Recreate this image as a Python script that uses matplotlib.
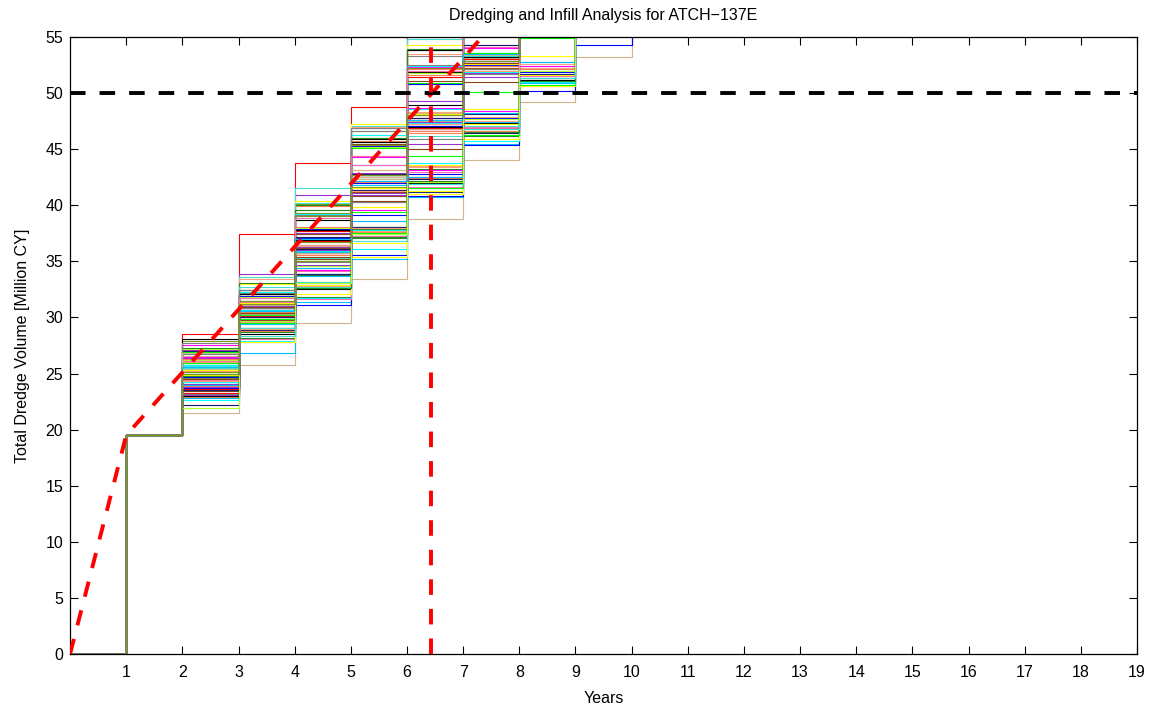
import matplotlib.pyplot as plt
import numpy as np

plt.rcParams['font.family'] = ['Liberation Sans', 'DejaVu Sans']

# dredge volume of the first year (same for every realization) [Million CY]
first_year_volume = 19.5

# annual infill volumes per realization, years 2..10 [Million CY]
inc_y2 = [9.0, 5.8, 4.1, 6.7, 5.2, 7.3, 5.9, 3.4, 6.3, 4.8,
          5.5, 7.6, 4.4, 6.1, 5.0, 2.0, 6.9, 4.7, 5.8, 7.0,
          3.8, 6.2, 5.3, 4.6, 8.0, 5.6, 4.2, 6.5, 5.1, 7.2,
          5.4, 3.6, 6.0, 4.9, 7.5, 5.7, 4.3, 6.4, 5.0, 8.4,
          5.9, 4.5, 6.6, 3.1, 6.8, 5.2, 4.8, 6.2, 3.9, 5.6,
          7.8, 4.6, 6.1, 5.5, 4.0, 7.1, 5.7, 3.3, 6.7, 5.1,
          5.8, 7.4, 4.2, 6.3, 5.0, 5.4, 8.6, 4.4, 6.0, 3.7,
          5.3, 6.9, 4.9, 6.2, 2.7, 5.9, 6.5, 4.5, 7.7, 5.6,
          4.1, 6.4, 5.2, 4.7, 7.0, 5.8, 3.5, 6.8, 5.0, 8.2,
          5.3, 4.3, 6.6, 6.0, 4.0, 7.3, 4.8, 6.1, 2.4, 5.5]
inc_y3 = [8.9, 4.6, 7.2, 3.5, 6.1, 2.9, 5.4, 7.8, 4.0, 6.5,
          3.2, 6.8, 5.0, 8.0, 4.4, 4.3, 7.0, 2.6, 5.7, 4.1,
          7.4, 5.2, 3.0, 6.6, 3.9, 7.9, 4.8, 2.8, 6.3, 5.5,
          4.2, 8.3, 5.9, 6.7, 2.7, 5.1, 7.1, 3.7, 6.0, 4.5,
          6.4, 7.5, 3.4, 5.3, 4.7, 3.1, 8.1, 6.2, 8.5, 4.9,
          5.8, 6.9, 2.5, 7.7, 5.6, 3.6, 4.4, 6.6, 3.8, 7.3,
          4.8, 3.3, 8.2, 5.1, 7.0, 2.9, 4.0, 7.6, 5.4, 6.8,
          7.5, 4.1, 6.2, 3.4, 8.4, 5.7, 3.0, 7.1, 4.6, 6.4,
          6.9, 3.6, 5.3, 8.1, 3.2, 6.0, 7.4, 4.2, 5.9, 4.7,
          3.9, 7.2, 5.6, 2.8, 6.5, 4.3, 6.9, 5.0, 7.8, 6.2]
inc_y4 = [6.4, 5.1, 6.3, 4.2, 4.8, 5.5, 6.7, 4.5, 5.9, 5.3,
          3.6, 7.0, 5.2, 7.9, 3.9, 3.7, 6.2, 4.6, 6.0, 4.4,
          5.7, 4.9, 3.3, 6.5, 5.0, 7.4, 4.0, 5.6, 4.3, 6.8,
          4.7, 6.1, 5.4, 4.2, 3.4, 6.6, 5.8, 4.1, 5.2, 7.7,
          5.9, 7.2, 4.4, 3.8, 6.4, 5.1, 6.3, 8.0, 5.5, 4.9,
          6.9, 5.3, 3.5, 7.5, 4.8, 6.2, 3.2, 5.0, 4.6, 7.1,
          5.6, 6.8, 6.0, 5.0, 7.6, 4.3, 5.7, 6.6, 4.5, 6.0,
          7.3, 4.2, 5.9, 3.6, 6.6, 5.4, 5.2, 4.7, 6.2, 7.8,
          6.3, 3.1, 5.7, 6.9, 4.5, 4.4, 6.5, 5.1, 5.8, 6.7,
          3.9, 5.0, 7.2, 4.9, 6.1, 4.6, 5.3, 6.4, 3.4, 5.5]
inc_y5 = [5.0, 4.4, 6.5, 3.9, 5.8, 4.6, 5.2, 6.9, 4.7, 6.1,
          5.3, 6.0, 3.4, 5.6, 4.8, 3.9, 7.4, 3.8, 5.5, 6.6,
          4.9, 6.7, 4.5, 5.1, 6.3, 6.8, 5.6, 3.2, 6.0, 7.9,
          4.1, 5.3, 6.8, 5.9, 5.0, 4.5, 6.4, 3.6, 5.7, 6.2,
          7.6, 6.4, 5.2, 4.4, 5.1, 3.7, 7.2, 5.8, 8.1, 6.3,
          6.6, 4.8, 5.7, 5.4, 3.5, 5.9, 4.9, 4.2, 6.7, 7.0,
          4.6, 5.5, 7.4, 6.1, 5.2, 3.3, 7.8, 6.3, 5.4, 4.3,
          6.4, 6.2, 4.7, 5.3, 5.6, 6.6, 3.8, 6.0, 7.2, 6.1,
          4.5, 4.9, 6.3, 7.1, 5.4, 5.8, 4.4, 6.5, 5.0, 7.5,
          4.6, 6.9, 5.5, 3.6, 5.3, 6.8, 4.8, 5.2, 4.3, 6.0]
inc_y6 = [7.2, 5.0, 4.6, 6.0, 5.4, 3.8, 6.2, 4.3, 6.6, 5.1,
          4.4, 6.9, 5.5, 7.7, 3.6, 5.4, 6.5, 5.5, 4.8, 6.0,
          5.9, 4.4, 5.2, 6.3, 4.1, 7.1, 3.9, 4.8, 5.6, 6.4,
          5.3, 6.5, 4.5, 5.0, 4.2, 6.8, 5.2, 4.6, 6.1, 7.5,
          6.1, 5.8, 3.7, 5.2, 6.2, 4.7, 7.9, 6.4, 5.6, 4.7,
          7.3, 6.0, 4.3, 6.7, 5.1, 4.6, 5.7, 3.9, 5.9, 6.2,
          6.7, 4.9, 5.5, 5.3, 8.0, 5.6, 6.3, 7.2, 4.2, 6.6,
          5.8, 4.6, 6.8, 4.1, 5.0, 4.4, 5.5, 6.3, 6.6, 7.0,
          5.6, 4.0, 5.1, 6.1, 3.5, 6.6, 5.7, 4.5, 6.8, 5.9,
          5.0, 4.5, 7.6, 5.1, 6.4, 4.3, 5.9, 5.4, 4.7, 5.3]
inc_y7 = [4.8, 5.7, 4.9, 4.6, 6.1, 5.0, 4.4, 6.5, 5.2, 5.8,
          4.7, 6.3, 3.9, 6.0, 5.2, 5.2, 7.1, 4.8, 6.2, 4.5,
          5.5, 6.4, 4.6, 4.7, 5.9, 6.6, 5.3, 4.2, 6.8, 5.7,
          3.8, 5.0, 6.0, 5.6, 5.8, 4.3, 6.7, 5.5, 4.6, 6.9,
          7.0, 6.5, 5.0, 4.4, 5.3, 5.9, 6.2, 5.6, 7.4, 5.8,
          6.0, 4.7, 5.4, 7.2, 4.3, 6.3, 4.5, 5.7, 4.9, 6.8,
          5.1, 6.2, 7.0, 4.6, 6.1, 4.9, 5.6, 6.4, 6.0, 5.2,
          6.7, 5.9, 4.4, 5.0, 6.5, 5.6, 4.0, 4.8, 5.9, 6.3,
          6.1, 4.8, 5.4, 6.4, 5.3, 4.5, 6.2, 5.8, 4.7, 6.6,
          4.3, 6.0, 5.5, 4.9, 5.1, 6.6, 4.8, 5.9, 5.6, 4.9]
inc_y8 = [5.9, 4.8, 5.6, 4.4, 5.2, 4.7, 6.0, 4.6, 5.7, 5.0,
          5.1, 6.4, 4.6, 6.8, 4.2, 5.2, 6.1, 5.4, 4.5, 6.3,
          4.9, 5.3, 4.8, 6.1, 4.4, 7.0, 3.9, 5.5, 4.7, 6.5,
          5.0, 5.8, 4.3, 5.1, 3.6, 6.0, 4.8, 4.5, 6.2, 5.9,
          6.6, 7.1, 4.1, 5.3, 5.5, 4.4, 6.8, 6.0, 5.7, 4.9,
          6.5, 5.6, 4.5, 6.2, 5.4, 4.7, 4.3, 4.6, 5.8, 7.2,
          4.4, 5.9, 6.3, 5.2, 6.6, 4.7, 7.4, 5.8, 4.6, 5.5,
          6.2, 4.9, 5.7, 4.2, 4.5, 5.0, 5.1, 6.1, 6.8, 5.6,
          4.8, 4.4, 6.0, 6.3, 4.0, 5.5, 4.6, 5.3, 5.9, 6.7,
          4.6, 5.1, 6.4, 4.5, 5.8, 4.4, 5.6, 4.9, 4.3, 5.4]
inc_y9 = [6.1, 5.4, 4.2, 5.3, 5.7, 4.9, 3.9, 5.0, 6.8, 4.5,
          5.2, 7.0, 4.8, 4.8, 5.6, 4.0, 5.9, 4.7, 7.4, 5.1,
          4.4, 5.8, 4.1, 3.8, 6.2, 5.3, 4.9, 4.7, 5.5, 6.0,
          6.7, 4.1, 5.6, 6.4, 5.2, 5.0, 4.6, 6.1, 3.5, 5.9,
          5.3, 6.8, 4.9, 5.7, 4.3, 7.2, 6.0, 5.1, 3.7, 6.5,
          4.6, 5.5, 7.5, 4.0, 6.3, 5.9, 4.6, 6.9, 5.2, 3.9,
          7.1, 4.8, 5.0, 6.6, 3.8, 5.0, 5.4, 4.5, 7.3, 5.6,
          5.8, 6.4, 3.6, 5.1, 6.7, 4.9, 7.0, 5.3, 4.2, 6.0,
          3.9, 6.1, 5.7, 4.7, 6.5, 5.0, 6.8, 4.4, 5.8, 7.2,
          5.5, 4.3, 6.6, 5.2, 7.6, 3.9, 5.1, 6.3, 4.8, 5.7]
inc_y10 = [5.6, 6.2, 4.9, 5.3, 6.8, 4.4, 5.9, 7.1, 5.0, 6.4,
           4.7, 5.5, 6.6, 5.1, 4.2, 5.8, 6.0, 4.6, 7.3, 5.4,
           6.3, 4.8, 5.2, 6.9, 5.7, 4.5, 6.1, 5.0, 4.3, 6.7,
           5.1, 6.5, 4.0, 5.6, 6.2, 7.0, 4.9, 5.3, 6.0, 4.4,
           6.8, 5.0, 5.9, 4.6, 6.4, 5.2, 4.1, 7.2, 5.5, 6.1,
           4.9, 6.3, 5.4, 6.0, 4.7, 5.6, 6.9, 5.1, 4.5, 5.8,
           5.3, 4.6, 6.7, 5.0, 6.1, 4.2, 5.7, 6.4, 5.9, 4.8,
           6.0, 5.7, 4.4, 6.6, 5.2, 4.9, 6.2, 5.5, 4.0, 7.1,
           4.5, 6.8, 5.3, 4.8, 5.9, 6.5, 5.0, 4.3, 6.6, 5.2,
           5.8, 4.1, 6.1, 5.4, 4.9, 6.0, 4.7, 5.6, 6.3, 5.0]

yearly_increments = [inc_y2, inc_y3, inc_y4, inc_y5, inc_y6,
                     inc_y7, inc_y8, inc_y9, inc_y10]

# mean trend line and where it reaches the capacity
mean_years = [0, 1, 2, 3, 4, 5, 6, 7, 8]
mean_volume = [0, 19.5, 25.1, 30.7, 36.3, 41.9, 47.5, 53.1, 58.7]
capacity = 50
capacity_year = 6.42

colors = ['#ff0000', '#00ff00', '#0000ff', '#00ffff', '#ff00ff', '#ffff00',
          '#000000', '#ff7f50', '#8b4513', '#808080', '#228b22', '#9932cc',
          '#ff69b4', '#40e0d0', '#191970', '#d2b48c', '#ffa07a', '#00bfff',
          '#adff2f', '#7a9a1e']

fig = plt.figure(figsize=(11.56, 7.08), dpi=100)
ax = fig.add_axes([0.0606, 0.0763, 0.9230, 0.8715])

years = np.arange(0, len(yearly_increments) + 2)
for i in range(len(inc_y2)):
    totals = [0, first_year_volume]
    for inc in yearly_increments:
        totals.append(totals[-1] + inc[i])
    ax.plot(years, totals, drawstyle='steps-post',
            color=colors[i % len(colors)], lw=0.8)

ax.plot(mean_years, mean_volume, color='red', lw=2.8, dashes=(4, 3.6), zorder=4)
ax.axhline(capacity, color='black', lw=2.8, dashes=(4, 3.6), zorder=4)
ax.axvline(capacity_year, color='red', lw=2.8, dashes=(4, 3.6), zorder=4)

ax.set_xlim(0, 19)
ax.set_ylim(0, 55)
ax.set_xticks(range(1, 20))
ax.set_yticks(range(0, 56, 5))
ax.tick_params(direction='in', top=True, right=True, length=6, width=0.8,
               labelsize=11.5)
ax.tick_params(axis='x', pad=8)
ax.tick_params(axis='y', pad=5)
for s in ax.spines.values():
    s.set_linewidth(0.9)

ax.set_title('Dredging and Infill Analysis for ATCH\u2212137E', fontsize=11.5, pad=12)
ax.set_xlabel('Years', fontsize=11.5, labelpad=8)
ax.set_ylabel('Total Dredge Volume [Million CY]', fontsize=11.5, labelpad=11)

fig.savefig('out.png', dpi=100)
